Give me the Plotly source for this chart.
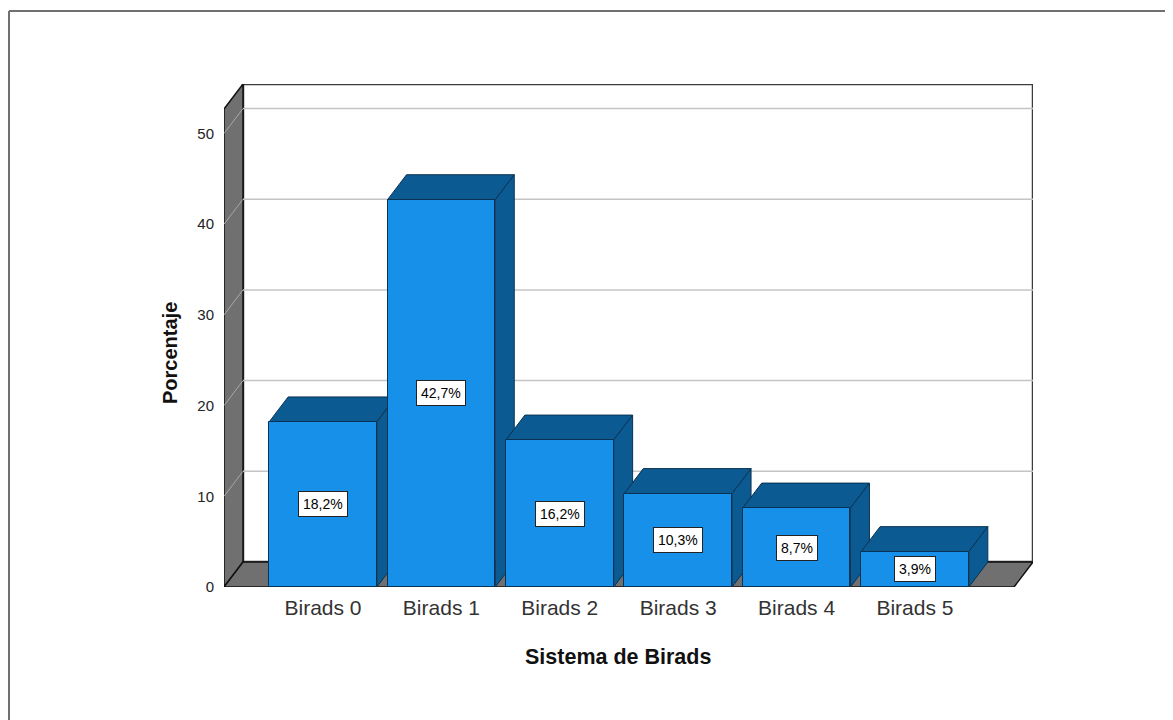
import plotly.graph_objects as go

categories = ["Birads 0", "Birads 1", "Birads 2", "Birads 3", "Birads 4", "Birads 5"]
percentages = [18.2, 42.7, 16.2, 10.3, 8.7, 3.9]
y_ticks = [0, 10, 20, 30, 40, 50]
x_title = "Sistema de Birads"
y_title = "Porcentaje"

FONT = "Liberation Sans, Arial, sans-serif"
FRONT = "#1690E8"
DARK = "#0C5A92"
EDGE = "#0A3252"
WALL = "#707070"

# axis geometry (data units)
X_RANGE = [-0.836, 5.997]
Y_RANGE = [0, 55.46]
DX = 0.1605   # depth offset in x units
DY = 2.756    # depth offset in y units
BAR_W = 0.91

x0f = X_RANGE[0]
x1f = X_RANGE[1] - DX
ytop = Y_RANGE[1]

ML, MT, MR, MB = 216, 76, 148, 141
PW, PH = 1173 - ML - MR, 720 - MT - MB

def path(pts):
    return "M " + " L ".join(f"{x},{y}" for x, y in pts) + " Z"

shapes = []
# back wall
shapes.append(dict(type="rect", xref="x", yref="y", x0=x0f + DX, x1=x1f + DX, y0=DY, y1=ytop,
                   fillcolor="white", line=dict(color="#3c3c3c", width=2.5), layer="below"))
# side wall
shapes.append(dict(type="path", xref="x", yref="y",
                   path=path([(x0f, 0), (x0f + DX, DY), (x0f + DX, ytop), (x0f, ytop - DY)]),
                   fillcolor=WALL, line=dict(color="#111", width=1.5), layer="below"))
# floor
shapes.append(dict(type="path", xref="x", yref="y",
                   path=path([(x0f, 0), (x1f, 0), (x1f + DX, DY), (x0f + DX, DY)]),
                   fillcolor=WALL, line=dict(color="#111", width=1.5), layer="below"))
# gridlines
for v in y_ticks[1:]:
    shapes.append(dict(type="line", xref="x", yref="y", x0=x0f + DX, x1=x1f + DX, y0=v + DY, y1=v + DY,
                       line=dict(color="#c4c4c4", width=1.5), layer="below"))
    shapes.append(dict(type="line", xref="x", yref="y", x0=x0f, x1=x0f + DX, y0=v, y1=v + DY,
                       line=dict(color="#a8a8a8", width=1), layer="below"))
# bar tops and sides
for i, v in enumerate(percentages):
    l, r = i - BAR_W / 2, i + BAR_W / 2
    shapes.append(dict(type="path", xref="x", yref="y",
                       path=path([(l, v), (r, v), (r + DX, v + DY), (l + DX, v + DY)]),
                       fillcolor=DARK, line=dict(color=EDGE, width=1), layer="below"))
    shapes.append(dict(type="path", xref="x", yref="y",
                       path=path([(r, 0), (r + DX, DY), (r + DX, v + DY), (r, v)]),
                       fillcolor=DARK, line=dict(color=EDGE, width=1), layer="below"))

# outer frame (left and top lines)
fx = (1 - ML) / PW
fy = (PH + MT - 3) / PH
shapes.append(dict(type="line", xref="paper", yref="paper", x0=fx, x1=fx,
                   y0=fy, y1=-1.0, line=dict(color="#707070", width=2)))
shapes.append(dict(type="line", xref="paper", yref="paper", x0=fx, x1=1.5,
                   y0=fy, y1=fy, line=dict(color="#707070", width=2)))

fig = go.Figure()
fig.add_trace(go.Bar(x=list(range(len(categories))), y=percentages, width=BAR_W,
                     marker=dict(color=FRONT, line=dict(color=EDGE, width=1)),
                     hoverinfo="skip", showlegend=False))

annotations = []
for i, v in enumerate(percentages):
    annotations.append(dict(x=i, y=v / 2, xref="x", yref="y", showarrow=False,
                            text=f"{v:.1f}%".replace(".", ","),
                            font=dict(family=FONT, size=14, color="black"),
                            bgcolor="white", bordercolor="#222", borderwidth=1, borderpad=4))

# axis titles (centred on the front plane of the 3D box)
annotations.append(dict(xref="paper", yref="paper", x=(610 - ML) / PW, y=(PH + MT - 649) / PH,
                        xanchor="center", yanchor="middle", showarrow=False,
                        text=f"<b>{x_title}</b>", font=dict(family=FONT, size=21.5, color="#111")))
annotations.append(dict(xref="paper", yref="paper", x=(162 - ML) / PW, y=(PH + MT - 345) / PH,
                        xanchor="center", yanchor="middle", showarrow=False, textangle=-90,
                        text=f"<b>{y_title}</b>", font=dict(family=FONT, size=20, color="#111")))

fig.update_layout(
    width=1173, height=720,
    margin=dict(l=ML, r=MR, t=MT, b=MB),
    paper_bgcolor="white", plot_bgcolor="rgba(0,0,0,0)",
    shapes=shapes, annotations=annotations,
    font=dict(family=FONT, color="#222"),
    xaxis=dict(range=X_RANGE, tickvals=list(range(len(categories))), ticktext=categories,
               showgrid=False, zeroline=False, showline=False,
               ticks="outside", ticklen=2, tickcolor="rgba(0,0,0,0)",
               tickfont=dict(size=21, color="#333")),
    yaxis=dict(range=Y_RANGE, tickvals=y_ticks, showgrid=False, zeroline=False, showline=False,
               ticks="outside", ticklen=6, tickcolor="rgba(0,0,0,0)",
               tickfont=dict(size=15, color="#222")),
    bargap=0,
)

fig.write_html("out.html")
